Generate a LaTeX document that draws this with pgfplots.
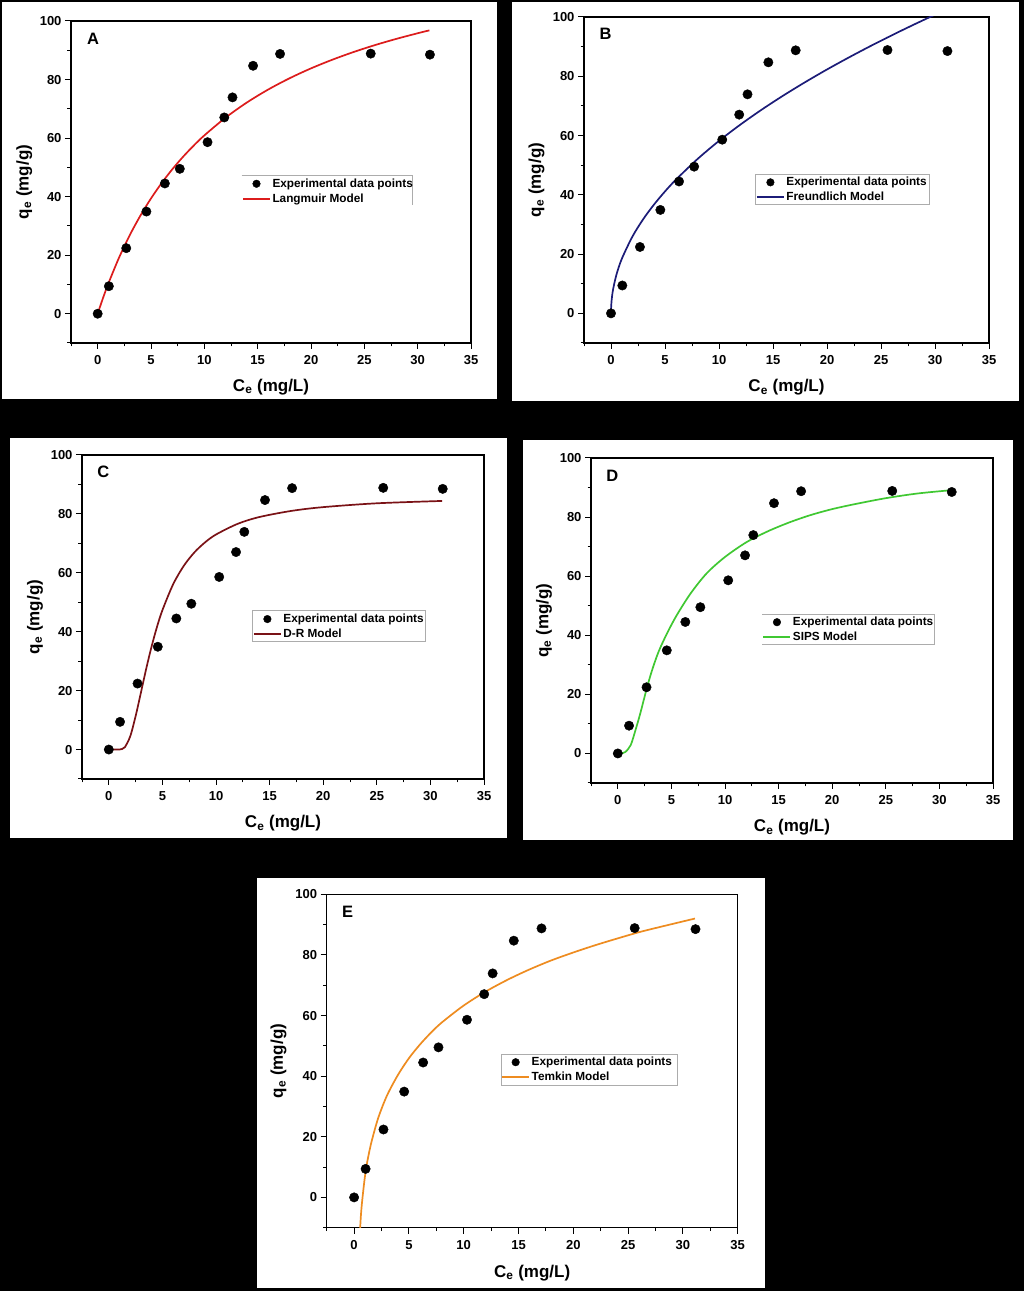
\documentclass[border=0pt]{standalone}
\usepackage{fontspec}
\setmainfont{Liberation Sans}
\usepackage{pgfplots}
\usepackage{pgfplotstable}
\pgfplotsset{compat=1.18}
\definecolor{lang}{RGB}{220,28,28}
\definecolor{freu}{RGB}{28,28,120}
\definecolor{dr}{RGB}{122,18,22}
\definecolor{sips}{RGB}{64,200,50}
\definecolor{temk}{RGB}{238,140,32}

\pgfplotstableread{
x y
0 0
1.05 9.4
2.68 22.4
4.57 34.9
6.3 44.5
7.7 49.5
10.3 58.6
11.87 67.05
12.64 73.9
14.57 84.7
17.1 88.75
25.6 88.85
31.15 88.5
}\expdata

\tikzset{letter/.style={font=\bfseries\fontsize{16.5}{16.5}\selectfont},
  legbox/.style={draw=gray!65, line width=0.7pt}}
\pgfplotsset{
 mypanel/.style={
  scale only axis,
  xmin=-2.5, xmax=35, ymin=-10, ymax=100,
  xtick={0,5,...,35}, ytick={0,20,...,100},
  minor xtick={-2.5,2.5,...,32.5}, minor ytick={-10,10,...,90},
  tick align=outside, tick pos=left,
  major tick length=6pt, minor tick length=3.5pt,
  every tick/.style={black, line width=1pt},
  axis line style={line width=1.2pt, black},
  /pgf/number format/assume math mode=true,
  tick label style={font=\bfseries\fontsize{13}{13}\selectfont},
  xticklabel style={yshift=-3pt},
  label style={font=\bfseries\fontsize{17}{17}\selectfont},
  xlabel={C\textsubscript{e} (mg/L)},
  ylabel={q\textsubscript{e} (mg/g)},
  xlabel style={at={(axis description cs:0.5,-0.136)}, anchor=center},
  ylabel style={at={(axis description cs:-0.117,0.5)}, anchor=center},
  legend cell align=left,
  legend style={anchor=north west, draw=none, fill=none,
    inner xsep=0pt, inner ysep=0.5pt, row sep=0pt,
    font=\bfseries\fontsize{11.8}{12}\selectfont,
    nodes={inner xsep=1.5pt, inner ysep=2.5pt}},
 },
 expstyle/.style={only marks, mark=*, mark size=4.7pt, mark options={fill=black, draw=black},
   legend image code/.code={\path (0pt,0pt) (27pt,0pt); \fill[black] (13.5pt,0pt) circle (3.8pt);}},
 modelstyle/.style={smooth, line width=1.7pt, color=#1,
   legend image code/.code={\draw[draw=#1, line width=2pt] (0pt,0pt) -- (27pt,0pt);}},
}

\begin{document}
\begin{tikzpicture}
\fill[black] (0pt,0pt) rectangle (1024pt,1291pt);
\fill[white] (2pt,892pt) rectangle (497pt,1289pt);
\fill[white] (512pt,890pt) rectangle (1019pt,1289pt);
\fill[white] (10pt,453pt) rectangle (507pt,853pt);
\fill[white] (523pt,451pt) rectangle (1013pt,851pt);
\fill[white] (257pt,3pt) rectangle (765pt,413pt);

% Panel A
\begin{axis}[mypanel, at={(71pt,948pt)}, anchor=south west, width=400pt, height=322pt,
  legend style={at={(axis description cs:0.427,0.52)}}]
\draw[legbox] (axis description cs:0.4268,0.5196) -- (axis description cs:0.854,0.5196) -- (axis description cs:0.854,0.4286);
\addplot[expstyle] table {\expdata};
\addlegendentry{Experimental data points}
\addplot[modelstyle=lang] coordinates {
(0,0) (0.5,5.35) (1,10.29) (2,19.12) (3,26.77) (4,33.47) (5,39.38) (6,44.64) (7,49.35)
(8,53.59) (9,57.42) (10,60.91) (12,67.01) (14,72.18) (16,76.61) (18,80.45) (20,83.81)
(22,86.77) (24,89.41) (26,91.77) (28,93.89) (30,95.81) (31.1,96.8)};
\addlegendentry{Langmuir Model}
\node[letter] at (axis description cs:0.055,0.944) {A};
\end{axis}

% Panel B
\begin{axis}[mypanel, at={(584pt,948pt)}, anchor=south west, width=405pt, height=326pt,
  legend style={at={(axis description cs:0.424,0.518)}}]
\draw[legbox] (axis description cs:0.424,0.518) rectangle (axis description cs:0.8526,0.4238);
\addplot[expstyle] table {\expdata};
\addlegendentry{Experimental data points}
\addplot[modelstyle=freu] coordinates {
(0,0) (0.01,1.84) (0.05,4.11) (0.1,5.82) (0.2,8.23) (0.5,13.01) (1,18.4) (2,26.02)
(3,31.87) (4,36.8) (5,41.14) (6,45.07) (8,52.04) (10,58.19) (12,63.74) (14,68.85)
(16,73.6) (18,78.06) (20,82.29) (22,86.3) (24,90.14) (26,93.82) (28,97.36) (30,100.78) (31.1,102.6)};
\addlegendentry{Freundlich Model}
\node[letter] at (axis description cs:0.053,0.949) {B};
\end{axis}

% Panel C
\begin{axis}[mypanel, at={(82pt,512pt)}, anchor=south west, width=402pt, height=324pt,
  legend style={at={(axis description cs:0.4246,0.519)}}]
\draw[legbox] (axis description cs:0.4246,0.5194) rectangle (axis description cs:0.854,0.4259);
\addplot[expstyle] table {\expdata};
\addlegendentry{Experimental data points}
\addplot[modelstyle=dr] coordinates {
(0.1,0) (0.5,0) (1,0.02) (1.25,0.2) (1.5,0.8) (2,4.5) (2.5,11.3) (3,19.4) (3.5,27.6) (4,35.1)
(4.5,41.7) (5,47.3) (6,56.1) (7,62.4) (8,67.0) (9,70.4) (10,73.0) (12,76.6) (14,78.9)
(17,81.0) (20,82.3) (25,83.6) (31.1,84.4)};
\addlegendentry{D-R Model}
\node[letter] at (axis description cs:0.053,0.948) {C};
\end{axis}

% Panel D
\begin{axis}[mypanel, at={(591pt,508pt)}, anchor=south west, width=402pt, height=325pt,
  legend style={at={(axis description cs:0.426,0.52)}}]
\draw[legbox] (axis description cs:0.4261,0.52) -- (axis description cs:0.854,0.52) -- (axis description cs:0.854,0.4268) -- (axis description cs:0.4261,0.4268);
\addplot[expstyle] table {\expdata};
\addlegendentry{Experimental data points}
\addplot[modelstyle=sips] coordinates {
(0,0) (0.3,0.05) (0.7,0.5) (1.2,2.8) (1.65,7.9) (2.1,13.6) (2.7,22) (3.2,28.2) (3.8,34.4)
(4.6,40.7) (5.5,46.8) (6.8,54.2) (8.3,61) (10,66.5) (12,71.5) (14,75.2) (16,78.2)
(18,80.7) (20,82.7) (22,84.3) (25,86.4) (28,88) (31.1,89.1)};
\addlegendentry{SIPS Model}
\node[letter] at (axis description cs:0.053,0.946) {D};
\end{axis}

% Panel E
\begin{axis}[mypanel, at={(326.7pt,63.3pt)}, anchor=south west, width=411pt, height=333.4pt,
  legend style={at={(axis description cs:0.424,0.521)}}]
\draw[legbox] (axis description cs:0.424,0.521) rectangle (axis description cs:0.854,0.428);
\addplot[expstyle] table {\expdata};
\addlegendentry{Experimental data points}
\addplot[modelstyle=temk] coordinates {
(0.55,-10.3) (0.62,-6) (0.7,-2.5) (0.8,1) (0.95,5.8) (1.1,9.7) (1.3,13.6) (1.6,18.5)
(2.2,26.2) (3,33.6) (4,40.4) (5,45.9) (6,50.4) (7,54.3) (8,57.7) (10,63.3) (12,67.9)
(14,71.8) (16,75.2) (18,78.2) (20,80.8) (22,83.2) (24,85.4) (26,87.5) (28,89.3) (31.1,92.0)};
\addlegendentry{Temkin Model}
\node[letter] at (axis description cs:0.051,0.948) {E};
\end{axis}
\end{tikzpicture}
\end{document}
